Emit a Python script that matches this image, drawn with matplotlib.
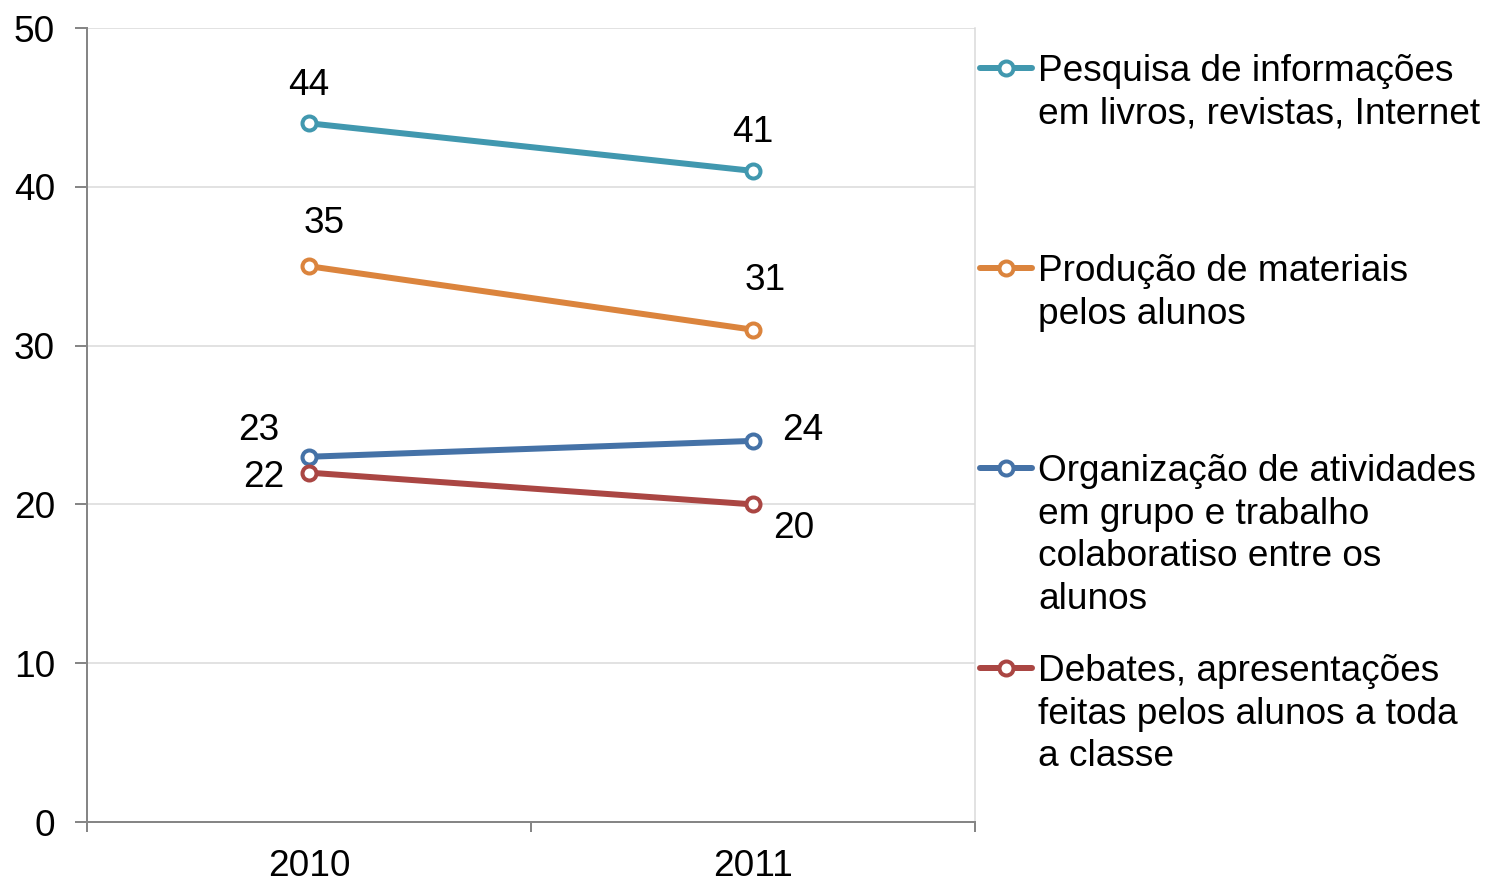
import numpy as np
import matplotlib.pyplot as plt
from matplotlib.lines import Line2D

plt.rcParams['font.family'] = ['Liberation Sans', 'DejaVu Sans']

years = ['2010', '2011']
pesquisa = [44, 41]
producao = [35, 31]
organizacao = [23, 24]
debates = [22, 20]

names = ['Pesquisa de informações\nem livros, revistas, Internet',
         'Produção de materiais\npelos alunos',
         'Organização de atividades\nem grupo e trabalho\ncolaboratiso entre os\nalunos',
         'Debates, apresentações\nfeitas pelos alunos a toda\na classe']
colors = ['#4198AF', '#DB843D', '#4572A7', '#AA4643']
series = [pesquisa, producao, organizacao, debates]

# label offsets (points) for 2010 / 2011 values
offsets = [[(0, 38), (0, 38)],
           [(15, 43), (12, 49)],
           [(-50, 26), (50, 10)],
           [(-45, -5), (41, -24)]]

W, H = 1485, 882
fig = plt.figure(figsize=(W / 72, H / 72), dpi=72)
ax = fig.add_axes([87 / W, 60 / H, (975 - 87) / W, (822 - 28) / H])

x = np.arange(len(years)) + 0.5
for vals, col, offs in zip(series, colors, offsets):
    ax.plot(x, vals, color=col, lw=6, marker='o', ms=14, mfc='white',
            mec=col, mew=4, zorder=3, solid_capstyle='round')
    for xi, v, (dx, dy) in zip(x, vals, offs):
        ax.annotate(str(v), (xi, v), xytext=(dx, dy), textcoords='offset points',
                    ha='center', va='center', fontsize=37)

ax.set_xlim(0, 2)
ax.set_ylim(0, 50)
ax.set_yticks(np.arange(0, 51, 10))
ax.set_xticks([0, 1, 2])
ax.set_xticklabels([])
ax.set_xticks(x, minor=True)
ax.set_xticklabels(years, minor=True)
ax.grid(axis='y', color='#D9D9D9', lw=1.5)
ax.set_axisbelow(True)
ax.spines['top'].set_visible(False)
ax.spines['right'].set_color('#D9D9D9')
ax.spines['right'].set_linewidth(1.5)
ax.spines['left'].set_color('#868686')
ax.spines['bottom'].set_color('#868686')
ax.spines['left'].set_linewidth(2)
ax.spines['bottom'].set_linewidth(2)
ax.tick_params(axis='y', length=12, width=2, color='#868686', labelsize=37, pad=20)
ax.tick_params(axis='x', which='major', length=10, width=2, color='#868686')
ax.tick_params(axis='x', which='minor', length=0, labelsize=37, pad=27)

# legend drawn by hand
tops = [68, 268, 468, 668]
for name, col, ty in zip(names, colors, tops):
    yy = 1 - ty / H
    fig.add_artist(Line2D([980 / W, 1032 / W], [yy, yy], color=col, lw=6,
                          transform=fig.transFigure, solid_capstyle='round'))
    fig.add_artist(Line2D([1006 / W], [yy], marker='o', ms=14, mfc='white',
                          mec=col, mew=4, transform=fig.transFigure))
    fig.text(1038 / W, 1 - (ty - 14) / H, name, fontsize=37, va='top', ha='left',
             linespacing=1.28)

fig.savefig('out.png', dpi=72)
